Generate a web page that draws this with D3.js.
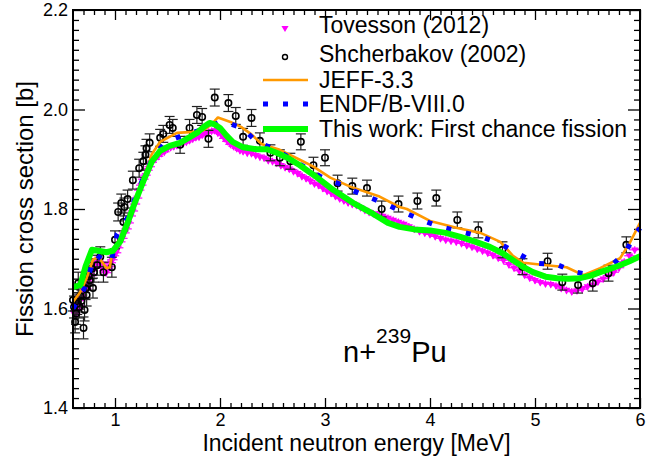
<!DOCTYPE html>
<html>
<head>
<meta charset="utf-8">
<script src="https://cdn.jsdelivr.net/npm/d3@7"></script>
<style>
  html, body { margin: 0; padding: 0; background: #fff; }
  svg { display: block; font-family: "Liberation Sans", Arial, Helvetica, sans-serif; }
</style>
</head>
<body>
<svg id="chart" width="660" height="459"></svg>
<script>
// Tovesson (2012): [energy MeV, cross section b]
const tovesson = [
  [0.605,1.592],[0.615,1.606],[0.625,1.588],[0.635,1.612],[0.645,1.598],[0.655,1.620],[0.665,1.606],
  [0.675,1.628],[0.685,1.640],[0.695,1.622],[0.705,1.645],[0.715,1.652],[0.725,1.640],[0.735,1.662],
  [0.745,1.655],[0.755,1.670],[0.765,1.678],[0.775,1.666],[0.785,1.684],[0.795,1.690],[0.81,1.682],
  [0.825,1.694],[0.84,1.700],[0.855,1.688],[0.87,1.683],[0.885,1.690],[0.90,1.676],[0.915,1.672],
  [0.93,1.680],[0.945,1.684],[0.96,1.692],[0.975,1.698],[0.99,1.706],[1.01,1.712],[1.03,1.722],
  [1.05,1.734],[1.07,1.741],[1.09,1.752],[1.11,1.760],[1.13,1.772],[1.15,1.786],[1.17,1.796],
  [1.19,1.810],[1.21,1.822],[1.23,1.838],[1.25,1.848],[1.27,1.860],[1.29,1.868],[1.31,1.878],
  [1.33,1.885],[1.35,1.894],[1.38,1.900],[1.41,1.906],[1.44,1.912],[1.47,1.915],[1.50,1.921],
  [1.53,1.924],[1.56,1.926],[1.59,1.928],[1.62,1.930],[1.65,1.932],[1.68,1.935],[1.71,1.938],
  [1.74,1.941],[1.77,1.944],[1.80,1.945],[1.83,1.949],[1.86,1.952],[1.89,1.955],[1.92,1.957],
  [1.95,1.958],[1.98,1.953],[2.01,1.950],[2.04,1.942],[2.07,1.936],[2.10,1.930],[2.13,1.926],
  [2.16,1.922],[2.19,1.918],[2.22,1.916],[2.26,1.913],[2.30,1.912],[2.34,1.908],[2.38,1.905],
  [2.42,1.903],[2.46,1.898],[2.50,1.896],[2.54,1.893],[2.58,1.888],[2.62,1.884],[2.66,1.881],
  [2.70,1.876],[2.74,1.872],[2.78,1.866],[2.82,1.862],[2.86,1.857],[2.90,1.851],[2.94,1.848],
  [2.98,1.842],[3.02,1.836],[3.06,1.832],[3.10,1.826],[3.14,1.821],[3.18,1.817],[3.22,1.813],
  [3.26,1.810],[3.30,1.808],[3.34,1.803],[3.38,1.798],[3.42,1.794],[3.46,1.791],[3.50,1.789],
  [3.55,1.786],[3.60,1.782],[3.65,1.778],[3.70,1.774],[3.75,1.770],[3.80,1.765],[3.85,1.760],
  [3.90,1.755],[3.95,1.752],[4.00,1.749],[4.05,1.745],[4.10,1.741],[4.15,1.738],[4.20,1.736],
  [4.25,1.734],[4.30,1.731],[4.35,1.727],[4.40,1.724],[4.45,1.720],[4.50,1.716],[4.55,1.712],
  [4.60,1.707],[4.65,1.702],[4.70,1.697],[4.75,1.689],[4.80,1.682],[4.85,1.676],[4.90,1.668],
  [4.95,1.662],[5.00,1.657],[5.05,1.653],[5.10,1.650],[5.15,1.649],[5.20,1.646],[5.25,1.641],
  [5.30,1.637],[5.35,1.634],[5.40,1.636],[5.45,1.639],[5.50,1.644],[5.55,1.648],[5.60,1.654],
  [5.65,1.660],[5.70,1.666],[5.75,1.673],[5.80,1.682],[5.85,1.694],[5.90,1.706],[5.95,1.718]
];
const tovessonBinHalf = 0.05;   // MeV, half bin width
const tovessonErr = 0.007;      // b

// Shcherbakov (2002): [energy MeV, cross section b, uncertainty b]
const shcherbakov = [
  [0.60,1.617,0.022],[0.61,1.603,0.022],[0.62,1.573,0.022],[0.63,1.590,0.022],[0.64,1.610,0.022],
  [0.65,1.651,0.022],[0.66,1.603,0.022],[0.67,1.625,0.022],[0.68,1.615,0.022],[0.70,1.561,0.022],
  [0.71,1.597,0.022],[0.72,1.640,0.022],[0.73,1.627,0.022],[0.75,1.665,0.020],[0.76,1.657,0.020],
  [0.78,1.680,0.020],[0.79,1.641,0.020],[0.80,1.673,0.020],[0.83,1.687,0.020],[0.86,1.704,0.020],
  [0.89,1.673,0.020],[0.97,1.683,0.020],[1.00,1.738,0.018],[1.03,1.794,0.018],[1.06,1.812,0.018],
  [1.08,1.774,0.018],[1.09,1.804,0.018],[1.12,1.820,0.018],[1.17,1.858,0.018],[1.23,1.882,0.018],
  [1.27,1.896,0.018],[1.29,1.909,0.018],[1.30,1.922,0.018],[1.33,1.933,0.018],[1.43,1.943,0.017],
  [1.46,1.951,0.017],[1.52,1.969,0.017],[1.55,1.963,0.017],[1.62,1.929,0.017],[1.71,1.963,0.017],
  [1.78,1.989,0.017],[1.83,1.985,0.017],[1.89,1.941,0.017],[1.95,2.024,0.017],[2.08,2.013,0.017],
  [2.15,1.987,0.017],[2.22,1.945,0.017],[2.30,1.983,0.017],[2.38,1.937,0.016],[2.48,1.913,0.016],
  [2.57,1.903,0.016],[2.67,1.896,0.016],[2.77,1.935,0.016],[2.89,1.888,0.016],[3.00,1.903,0.016],
  [3.12,1.852,0.016],[3.26,1.846,0.016],[3.40,1.842,0.016],[3.54,1.800,0.016],[3.70,1.810,0.016],
  [3.88,1.816,0.016],[4.06,1.822,0.016],[4.26,1.778,0.016],[4.46,1.758,0.016],[4.69,1.718,0.016],
  [4.88,1.684,0.016],[5.12,1.695,0.016],[5.26,1.653,0.016],[5.41,1.647,0.016],[5.55,1.651,0.016],
  [5.70,1.671,0.016],[5.87,1.728,0.016]
];

// JEFF-3.3 evaluation
const jeff33 = [
  [0.60,1.613],[0.67,1.633],[0.73,1.661],[0.79,1.698],[0.84,1.704],[0.886,1.691],[0.92,1.681],
  [0.95,1.683],[0.98,1.718],[1.03,1.734],[1.08,1.754],[1.17,1.804],[1.27,1.858],[1.35,1.910],
  [1.43,1.935],[1.59,1.953],[1.74,1.955],[1.84,1.958],[1.92,1.970],[1.98,1.984],[2.10,1.975],
  [2.20,1.965],[2.30,1.950],[2.40,1.930],[2.57,1.919],[2.76,1.899],[2.89,1.885],[3.05,1.863],
  [3.24,1.845],[3.52,1.825],[3.71,1.804],[3.78,1.800],[4.00,1.776],[4.26,1.762],[4.48,1.752],
  [4.67,1.734],[4.79,1.706],[4.89,1.692],[5.11,1.687],[5.30,1.683],[5.46,1.667],[5.62,1.681],
  [5.81,1.701],[5.90,1.731],[6.00,1.772]
];

// ENDF/B-VIII.0 evaluation
const endf80 = [
  [0.60,1.600],[0.70,1.637],[0.80,1.700],[0.82,1.708],[0.93,1.691],[0.97,1.700],[1.02,1.750],
  [1.12,1.782],[1.21,1.832],[1.29,1.873],[1.38,1.910],[1.49,1.935],[1.67,1.950],[1.84,1.960],
  [1.95,1.970],[2.02,1.977],[2.21,1.963],[2.35,1.935],[2.50,1.922],[2.65,1.905],[2.80,1.885],
  [2.95,1.866],[3.03,1.858],[3.12,1.852],[3.21,1.842],[3.39,1.826],[3.56,1.812],[3.74,1.794],
  [3.92,1.778],[4.10,1.764],[4.30,1.754],[4.49,1.744],[4.67,1.730],[4.84,1.710],[5.01,1.691],
  [5.20,1.689],[5.39,1.673],[5.55,1.667],[5.71,1.683],[5.86,1.712],[5.95,1.748],[6.00,1.762]
];

// This work: first chance fission
const firstChance = [
  [0.60,1.643],[0.67,1.647],[0.72,1.685],[0.78,1.718],[0.84,1.716],[0.92,1.713],[0.98,1.716],
  [1.05,1.735],[1.12,1.772],[1.18,1.808],[1.27,1.856],[1.35,1.895],[1.43,1.917],[1.52,1.927],
  [1.62,1.933],[1.70,1.943],[1.78,1.953],[1.85,1.966],[1.90,1.973],[1.95,1.970],[2.00,1.963],
  [2.06,1.948],[2.12,1.935],[2.22,1.924],[2.35,1.920],[2.45,1.920],[2.55,1.912],[2.65,1.902],
  [2.76,1.888],[2.92,1.864],[3.08,1.838],[3.27,1.812],[3.46,1.790],[3.60,1.772],[3.71,1.764],
  [3.85,1.759],[4.00,1.757],[4.15,1.752],[4.29,1.744],[4.45,1.733],[4.57,1.724],[4.70,1.710],
  [4.79,1.697],[4.90,1.682],[4.98,1.673],[5.10,1.664],[5.21,1.661],[5.32,1.660],[5.43,1.661],
  [5.53,1.666],[5.62,1.673],[5.72,1.680],[5.81,1.687],[5.90,1.695],[6.00,1.705]
];

const xMajorTicks = [1, 2, 3, 4, 5, 6];
const yMajorTicks = [1.4, 1.6, 1.8, 2.0, 2.2];
const legendLabels = ["Tovesson (2012)", "Shcherbakov (2002)", "JEFF-3.3", "ENDF/B-VIII.0", "This work: First chance fission"];

const svg = d3.select("#chart");
const plot = { left: 73, right: 640, top: 10, bottom: 408 };

const x = d3.scaleLinear().domain([0.6, 6]).range([plot.left, plot.right]);
const y = d3.scaleLinear().domain([1.4, 2.2]).range([plot.bottom, plot.top]);

const xMinor = d3.range(7, 60).map(v => v / 10).filter(v => Math.abs(v - Math.round(v)) > 1e-9);
const yMinor = d3.range(71, 110).map(v => v / 50).filter(v => !yMajorTicks.some(t => Math.abs(t - v) < 1e-9));

const fmt1 = d3.format(".1f");

// ---- axes (ticks point inward, mirrored on all four sides) ----
function styleAxis(g) {
  g.select(".domain").remove();
  g.selectAll(".tick line").attr("stroke", "#000").attr("stroke-width", 1.3);
  g.selectAll(".tick text").attr("fill", "#000").attr("font-size", 18)
    .attr("font-family", '"Liberation Sans", Arial, sans-serif');
}

svg.append("g").attr("transform", `translate(0,${plot.bottom})`)
  .call(d3.axisBottom(x).tickValues(xMajorTicks).tickSize(-10).tickPadding(5).tickFormat(d3.format("d")))
  .call(styleAxis);
svg.append("g").attr("transform", `translate(0,${plot.bottom})`)
  .call(d3.axisBottom(x).tickValues(xMinor).tickSize(-5).tickFormat(""))
  .call(styleAxis);
svg.append("g").attr("transform", `translate(0,${plot.top})`)
  .call(d3.axisTop(x).tickValues(xMajorTicks).tickSize(-10).tickFormat(""))
  .call(styleAxis);
svg.append("g").attr("transform", `translate(0,${plot.top})`)
  .call(d3.axisTop(x).tickValues(xMinor).tickSize(-5).tickFormat(""))
  .call(styleAxis);

svg.append("g").attr("transform", `translate(${plot.left},0)`)
  .call(d3.axisLeft(y).tickValues(yMajorTicks).tickSize(-12).tickPadding(5).tickFormat(fmt1))
  .call(styleAxis);
svg.append("g").attr("transform", `translate(${plot.left},0)`)
  .call(d3.axisLeft(y).tickValues(yMinor).tickSize(-6).tickFormat(""))
  .call(styleAxis);
svg.append("g").attr("transform", `translate(${plot.right},0)`)
  .call(d3.axisRight(y).tickValues(yMajorTicks).tickSize(-12).tickFormat(""))
  .call(styleAxis);
svg.append("g").attr("transform", `translate(${plot.right},0)`)
  .call(d3.axisRight(y).tickValues(yMinor).tickSize(-6).tickFormat(""))
  .call(styleAxis);

// ---- data layer ----
const data = svg.append("g");
const magenta = "#ff00ff";

// Tovesson: horizontal bin bars, small vertical errors, downward triangles
const tov = data.append("g");
tov.selectAll("line.h").data(tovesson).join("line")
  .attr("x1", d => x(Math.max(0.6, d[0] - tovessonBinHalf))).attr("x2", d => x(d[0] + tovessonBinHalf))
  .attr("y1", d => y(d[1])).attr("y2", d => y(d[1]))
  .attr("stroke", magenta).attr("stroke-width", 1.2);
tov.selectAll("line.v").data(tovesson).join("line")
  .attr("x1", d => x(d[0])).attr("x2", d => x(d[0]))
  .attr("y1", d => y(d[1] - tovessonErr)).attr("y2", d => y(d[1] + tovessonErr))
  .attr("stroke", magenta).attr("stroke-width", 1.2);
const tri = d3.symbol(d3.symbolTriangle, 26);
tov.selectAll("path").data(tovesson).join("path")
  .attr("d", tri)
  .attr("transform", d => `translate(${x(d[0])},${y(d[1])}) rotate(180)`)
  .attr("fill", magenta);

// Shcherbakov: error bars with caps, open circles
const sh = data.append("g");
const capHalf = 5;
sh.selectAll("g").data(shcherbakov).join("g").each(function (d) {
  const g = d3.select(this);
  const cx = x(d[0]), ylo = y(d[1] - d[2]), yhi = y(d[1] + d[2]);
  g.append("line").attr("x1", cx).attr("x2", cx).attr("y1", ylo).attr("y2", yhi)
    .attr("stroke", "#222").attr("stroke-width", 1.2);
  g.append("line").attr("x1", cx - capHalf).attr("x2", cx + capHalf).attr("y1", ylo).attr("y2", ylo)
    .attr("stroke", "#222").attr("stroke-width", 1.2);
  g.append("line").attr("x1", cx - capHalf).attr("x2", cx + capHalf).attr("y1", yhi).attr("y2", yhi)
    .attr("stroke", "#222").attr("stroke-width", 1.2);
});
sh.selectAll("circle").data(shcherbakov).join("circle")
  .attr("cx", d => x(d[0])).attr("cy", d => y(d[1])).attr("r", 3.2)
  .attr("fill", "none").attr("stroke", "#000").attr("stroke-width", 1.6);

// evaluation curves
const line = d3.line().x(d => x(d[0])).y(d => y(d[1]));
data.append("path").datum(jeff33).attr("d", line)
  .attr("fill", "none").attr("stroke", "#ff9900").attr("stroke-width", 2.6).attr("stroke-linejoin", "round");
data.append("path").datum(endf80).attr("d", line)
  .attr("fill", "none").attr("stroke", "#0000ff").attr("stroke-width", 5).attr("stroke-dasharray", "5,15");
data.append("path").datum(firstChance).attr("d", line)
  .attr("fill", "none").attr("stroke", "#00ff00").attr("stroke-width", 6).attr("stroke-linejoin", "round");

// frame
svg.append("rect").attr("x", plot.left).attr("y", plot.top)
  .attr("width", plot.right - plot.left).attr("height", plot.bottom - plot.top)
  .attr("fill", "none").attr("stroke", "#000").attr("stroke-width", 2);

// axis titles
svg.append("text").attr("x", (plot.left + plot.right) / 2).attr("y", 451)
  .attr("text-anchor", "middle").attr("font-size", 23).text("Incident neutron energy [MeV]");
svg.append("text").attr("transform", `translate(33,${(plot.top + plot.bottom) / 2}) rotate(-90)`)
  .attr("text-anchor", "middle").attr("font-size", 24).text("Fission cross section [b]");

// reaction label
const lab = svg.append("text").attr("x", 343).attr("y", 362).attr("font-size", 29);
lab.append("tspan").text("n+");
lab.append("tspan").attr("font-size", 21).attr("dy", -19).text("239");
lab.append("tspan").attr("dy", 19).text("Pu");

// ---- legend ----
const leg = svg.append("g");
const rows = [25, 54, 80, 104, 129];
const textX = 319, symX = 285, lineX1 = 263, lineX2 = 308;
legendLabels.forEach((t, i) => {
  leg.append("text").attr("x", textX).attr("y", rows[i]).attr("dy", "0.35em")
    .attr("font-size", 23).text(t);
});
leg.append("path").attr("d", d3.symbol(d3.symbolTriangle, 22))
  .attr("transform", `translate(${symX},${rows[0] + 3}) rotate(180)`).attr("fill", magenta);
leg.append("circle").attr("cx", symX).attr("cy", rows[1] + 3).attr("r", 2.5)
  .attr("fill", "none").attr("stroke", "#000").attr("stroke-width", 1.4);
leg.append("line").attr("x1", lineX1).attr("x2", lineX2).attr("y1", rows[2]).attr("y2", rows[2])
  .attr("stroke", "#ff9900").attr("stroke-width", 2.6);
leg.append("line").attr("x1", lineX1).attr("x2", lineX2).attr("y1", rows[3]).attr("y2", rows[3])
  .attr("stroke", "#0000ff").attr("stroke-width", 5).attr("stroke-dasharray", "5,15");
leg.append("line").attr("x1", lineX1).attr("x2", lineX2).attr("y1", rows[4]).attr("y2", rows[4])
  .attr("stroke", "#00ff00").attr("stroke-width", 6);
</script>
</body>
</html>
